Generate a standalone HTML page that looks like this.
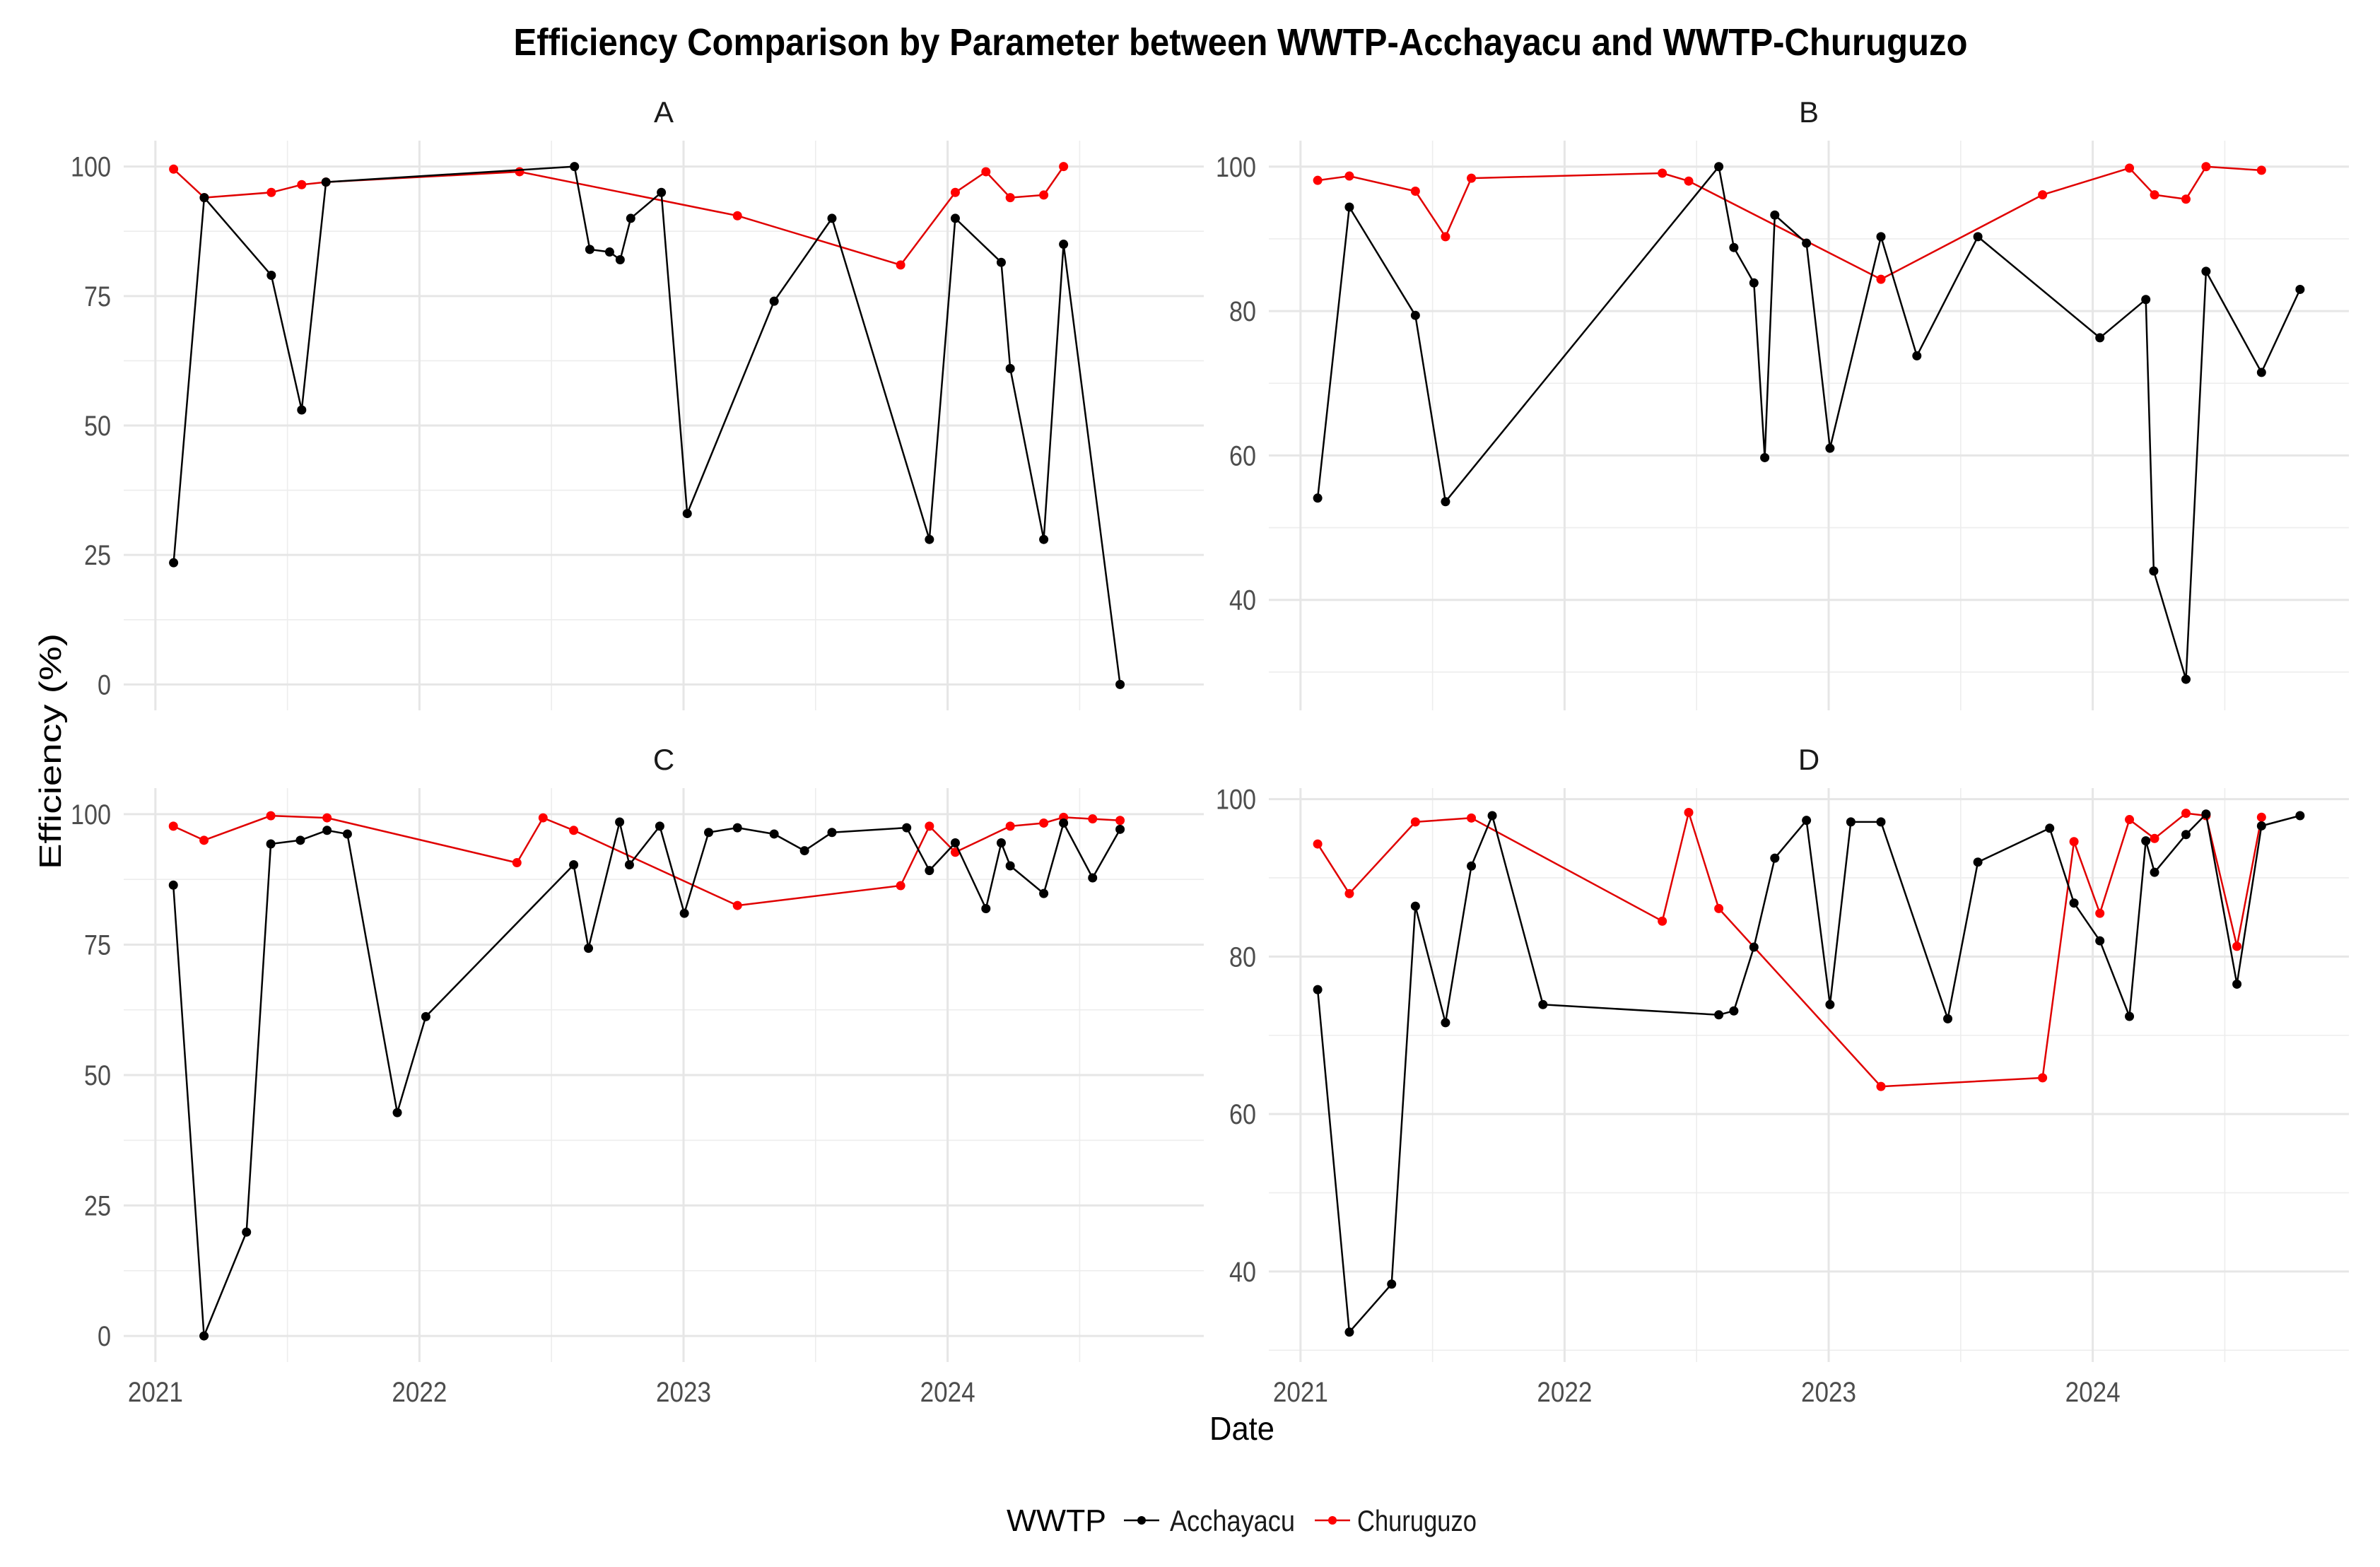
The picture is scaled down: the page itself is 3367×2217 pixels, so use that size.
<!DOCTYPE html>
<html><head><meta charset="utf-8"><style>
html,body{margin:0;padding:0;background:#fff;}
svg{display:block;}
text{font-family:"Liberation Sans Narrow","Liberation Sans",sans-serif;}
</style></head><body>
<svg id="chart" width="3367" height="2217" viewBox="0 0 3367 2217" xmlns="http://www.w3.org/2000/svg">
<text x="1755" y="78" text-anchor="middle" font-size="54" font-weight="bold" textLength="2057" lengthAdjust="spacingAndGlyphs">Efficiency Comparison by Parameter between WWTP-Acchayacu and WWTP-Churuguzo</text>
<text x="0" y="0" transform="translate(86,1063) rotate(-90)" text-anchor="middle" font-size="44" textLength="334" lengthAdjust="spacingAndGlyphs">Efficiency (%)</text>
<text x="1757" y="2037" text-anchor="middle" font-size="46" textLength="92" lengthAdjust="spacingAndGlyphs">Date</text>
<g>
<text x="1424" y="2166" font-size="44" textLength="141" lengthAdjust="spacingAndGlyphs">WWTP</text>
<g>
<line x1="1590" y1="2151" x2="1640" y2="2151" stroke="#000" stroke-width="2.5"/><circle cx="1615" cy="2151" r="6" fill="#000"/>
<text x="1655" y="2166" font-size="42" fill="#1a1a1a" textLength="177" lengthAdjust="spacingAndGlyphs">Acchayacu</text></g>
<g>
<line x1="1860" y1="2151" x2="1910" y2="2151" stroke="#e00000" stroke-width="2.5"/><circle cx="1885" cy="2151" r="6" fill="#ff0000"/>
<text x="1920" y="2166" font-size="42" fill="#1a1a1a" textLength="169" lengthAdjust="spacingAndGlyphs">Churuguzo</text></g>
</g>
</svg>
<script>
// Panel A
const aBlackX=[2021.069,2021.185,2021.439,2021.554,2021.646,2022.587,2022.645,2022.720,2022.760,2022.800,2022.916,2023.014,2023.343,2023.562,2023.931,2024.029,2024.203,2024.237,2024.364,2024.439,2024.653];
const aBlackY=[23.5,94,79,53,97,100,84,83.5,82,90,95,33,74,90,28,90,81.5,61,28,85,0];
const aRedX=[2021.069,2021.185,2021.439,2021.554,2021.646,2022.379,2023.204,2023.822,2024.029,2024.145,2024.237,2024.364,2024.439];
const aRedY=[99.5,94,95,96.5,97,99,90.5,81,95,99,94,94.5,100];
// Panel B
const bBlackX=[2021.065,2021.185,2021.435,2021.549,2022.584,2022.641,2022.717,2022.758,2022.796,2022.916,2023.005,2023.198,2023.334,2023.565,2024.027,2024.201,2024.231,2024.353,2024.429,2024.639,2024.785];
const bBlackY=[54.1,94.4,79.4,53.6,100,88.8,83.9,59.7,93.3,89.4,61.0,90.3,73.8,90.3,76.3,81.6,44.0,29.0,85.5,71.5,83.0];
const bRedX=[2021.065,2021.185,2021.435,2021.549,2021.647,2022.370,2022.470,2023.198,2023.810,2024.139,2024.234,2024.353,2024.429,2024.639];
const bRedY=[98.1,98.7,96.6,90.3,98.4,99.1,98.0,84.4,96.1,99.8,96.1,95.5,100,99.5];
// Panel C
const cBlackX=[2021.068,2021.184,2021.345,2021.437,2021.549,2021.650,2021.727,2021.916,2022.024,2022.584,2022.640,2022.758,2022.795,2022.910,2023.003,2023.095,2023.204,2023.343,2023.458,2023.562,2023.845,2023.931,2024.029,2024.145,2024.203,2024.237,2024.364,2024.439,2024.549,2024.653];
const cBlackY=[86.4,0,19.9,94.3,95.0,96.9,96.2,42.8,61.2,90.3,74.3,98.5,90.3,97.7,81.0,96.5,97.4,96.2,93.0,96.5,97.4,89.2,94.5,81.9,94.5,90.1,84.8,98.3,87.8,97.1];
const cRedX=[2021.068,2021.184,2021.437,2021.650,2022.369,2022.468,2022.584,2023.204,2023.822,2023.931,2024.029,2024.237,2024.364,2024.439,2024.549,2024.653];
const cRedY=[97.7,95.0,99.7,99.3,90.7,99.3,96.9,82.5,86.3,97.7,92.7,97.7,98.3,99.4,99.1,98.8];
// Panel D
const dBlackX=[2021.065,2021.185,2021.345,2021.435,2021.549,2021.647,2021.726,2021.918,2022.584,2022.641,2022.717,2022.796,2022.916,2023.005,2023.084,2023.198,2023.451,2023.565,2023.837,2023.929,2024.027,2024.139,2024.201,2024.234,2024.353,2024.429,2024.546,2024.639,2024.785];
const dBlackY=[75.8,32.3,38.4,86.4,71.6,91.5,97.9,73.9,72.6,73.1,81.2,92.5,97.3,73.9,97.1,97.1,72.1,92.0,96.3,86.8,82.0,72.4,94.7,90.7,95.5,98.1,76.5,96.6,97.9];
const dRedX=[2021.065,2021.185,2021.435,2021.647,2022.370,2022.470,2022.584,2023.198,2023.810,2023.929,2024.027,2024.139,2024.234,2024.353,2024.429,2024.546,2024.639];
const dRedY=[94.3,88.0,97.1,97.6,84.5,98.3,86.1,63.5,64.6,94.6,85.5,97.4,95.0,98.2,97.9,81.3,97.7];
const xTicks=[2021,2022,2023,2024];
const xTickLabels=["2021","2022","2023","2024"];
const acTicks=[0,25,50,75,100];
const bTicks=[40,60,80,100];
const dTicks=[40,60,80,100];

const NS="http://www.w3.org/2000/svg";
const svg=document.getElementById("chart");
function mk(tag,attrs,parent){const e=document.createElementNS(NS,tag);for(const k in attrs)e.setAttribute(k,attrs[k]);(parent||svg).appendChild(e);return e;}
const X0=2020.88,X1=2024.97;
const panels=[
 {id:"a",label:"A",l:175,r:1703,t:199,b:1005,y0:-5,y1:105,major:acTicks,minorStep:12.5,bx:aBlackX,by:aBlackY,rx:aRedX,ry:aRedY,xlab:false},
 {id:"b",label:"B",l:1795,r:3323,t:199,b:1005,y0:24.7,y1:103.6,major:bTicks,minorStep:10,bx:bBlackX,by:bBlackY,rx:bRedX,ry:bRedY,xlab:false},
 {id:"c",label:"C",l:175,r:1703,t:1115,b:1927,y0:-5,y1:105,major:acTicks,minorStep:12.5,bx:cBlackX,by:cBlackY,rx:cRedX,ry:cRedY,xlab:true},
 {id:"d",label:"D",l:1795,r:3323,t:1115,b:1927,y0:28.5,y1:101.4,major:dTicks,minorStep:10,bx:dBlackX,by:dBlackY,rx:dRedX,ry:dRedY,xlab:true}
];
panels.forEach(p=>{
 const g=mk("g",{});
 
 
 const sx=v=>p.l+(v-X0)/(X1-X0)*(p.r-p.l);
 const sy=v=>p.b-(v-p.y0)/(p.y1-p.y0)*(p.b-p.t);
 const start=Math.ceil(p.y0/p.minorStep)*p.minorStep;
 for(let v=start;v<=p.y1;v+=p.minorStep){
   if(p.major.indexOf(v)>=0)continue;
   const ln=mk("line",{x1:p.l,x2:p.r,y1:sy(v),y2:sy(v),stroke:"#ededed","stroke-width":1.6},g);
   
   
 }
 for(let yr=2020.5;yr<=2025;yr+=1){
   if(yr<X0||yr>X1)continue;
   const ln=mk("line",{x1:sx(yr),x2:sx(yr),y1:p.t,y2:p.b,stroke:"#ededed","stroke-width":1.6},g);
   
   
 }
 p.major.forEach(v=>{
   const ln=mk("line",{x1:p.l,x2:p.r,y1:sy(v),y2:sy(v),stroke:"#e6e6e6","stroke-width":3},g);
   
   
   const s=String(v);
   const t=mk("text",{x:p.l-18,y:sy(v)+14,"text-anchor":"end","font-size":40,fill:"#4d4d4d",textLength:19*s.length,lengthAdjust:"spacingAndGlyphs"},g);
   t.textContent=s;
   
   
 });
 xTicks.forEach((yr,i)=>{
   const ln=mk("line",{x1:sx(yr),x2:sx(yr),y1:p.t,y2:p.b,stroke:"#e6e6e6","stroke-width":3},g);
   
   
   if(p.xlab){
     const t=mk("text",{x:sx(yr),y:p.b+56,"text-anchor":"middle","font-size":40,fill:"#4d4d4d",textLength:78,lengthAdjust:"spacingAndGlyphs"},g);
     t.textContent=xTickLabels[i];
     
     
   }
 });
 const st=mk("text",{x:(p.l+p.r)/2,y:p.t-26,"text-anchor":"middle","font-size":42,fill:"#1a1a1a"},g);
 st.textContent=p.label;
 
 
 [[p.rx,p.ry,"#e00000","#ff0000","churuguzo"],[p.bx,p.by,"#000","#000","acchayacu"]].forEach(s=>{
   const pts=s[0].map((x,i)=>sx(x).toFixed(1)+","+sy(s[1][i]).toFixed(1)).join(" ");
   const pl=mk("polyline",{points:pts,fill:"none",stroke:s[2],"stroke-width":2.5,"stroke-linejoin":"round"},g);
   
   
   s[0].forEach((x,i)=>{
     const c=mk("circle",{cx:sx(x),cy:sy(s[1][i]),r:6.5,fill:s[3]},g);
     
     
   });
 });
});
</script>
</body></html>
